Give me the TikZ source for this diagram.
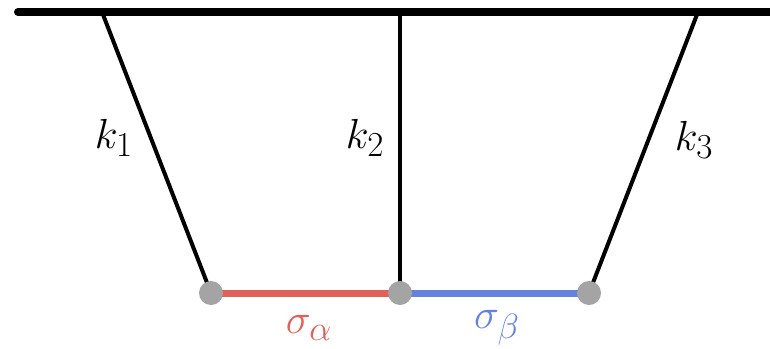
\documentclass[tikz,border=0pt]{standalone}
\usepackage{graphicx}
\definecolor{sred}{HTML}{E0605A}
\definecolor{sblue}{HTML}{6482DC}
\definecolor{dotgray}{HTML}{A4A4A4}
\newcommand{\biglbl}[1]{\scalebox{1.69}{\Huge$#1$}}
\begin{document}
\begin{tikzpicture}[x=1pt,y=-1pt,
  spring/.style={line width=4pt},
  ceil/.style={line width=8pt,line cap=round},
  joint/.style={circle,fill=dotgray,inner sep=0pt,minimum size=24pt},
  lbl/.style={inner sep=0pt}]
\useasboundingbox (0,0) rectangle (770,348);
\coordinate (cl) at (18,12);
\coordinate (cr) at (775,12);
\draw[ceil] (cl) -- (cr);
\coordinate (t1) at (102,12);
\coordinate (t2) at (400,12);
\coordinate (t3) at (698,12);
\coordinate (b1) at (211,293);
\coordinate (b2) at (400,293);
\coordinate (b3) at (589,293);
\draw[spring] (t1) -- (b1);
\draw[spring] (t2) -- (b2);
\draw[spring] (t3) -- (b3);
\draw[line width=7pt,sred] (b1) -- (b2);
\draw[line width=7pt,sblue] (b2) -- (b3);
\node[joint] (n1) at (b1) {};
\node[joint] (n2) at (b2) {};
\node[joint] (n3) at (b3) {};
\node[lbl] (k1) at (114,138) {\biglbl{k_1}};
\node[lbl] (k2) at (365,138) {\biglbl{k_2}};
\node[lbl] (k3) at (694,140) {\biglbl{k_3}};
\node[lbl,text=sred] (sa) at (309,328) {\biglbl{\sigma_\alpha}};
\node[lbl,text=sblue] (sb) at (497,328) {\biglbl{\sigma_\beta}};
\end{tikzpicture}
\end{document}
